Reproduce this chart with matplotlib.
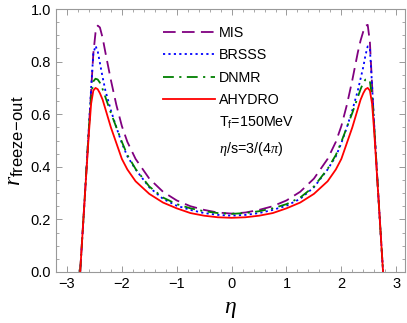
import numpy as np
import matplotlib
matplotlib.use("Agg")
import matplotlib.pyplot as plt
from matplotlib.lines import Line2D

plt.rcParams['font.family'] = ['Liberation Sans', 'DejaVu Sans']
plt.rcParams['mathtext.fontset'] = 'custom'
plt.rcParams['mathtext.rm'] = 'Liberation Sans'
plt.rcParams['mathtext.sf'] = 'Liberation Sans'
plt.rcParams['mathtext.it'] = 'Liberation Serif:italic'

# eta grid
eta = [-2.76, -2.72, -2.68, -2.64, -2.60, -2.56, -2.52, -2.48, -2.44, -2.40,
       -2.35, -2.30, -2.20, -2.10, -2.00, -1.90, -1.75, -1.50, -1.25, -1.00,
       -0.75, -0.50, -0.25, 0.00,
       0.25, 0.50, 0.75, 1.00, 1.25, 1.50, 1.75, 1.90, 2.00, 2.10,
       2.20, 2.30, 2.35, 2.40, 2.44, 2.48, 2.52, 2.56, 2.60, 2.64,
       2.68, 2.72, 2.76]

mis = [0.0, 0.135, 0.27, 0.41, 0.55, 0.69, 0.83, 0.91, 0.937, 0.93,
       0.89, 0.835, 0.73, 0.635, 0.555, 0.495, 0.43, 0.355, 0.305, 0.272,
       0.250, 0.236, 0.226, 0.222,
       0.226, 0.236, 0.250, 0.272, 0.305, 0.355, 0.43, 0.495, 0.555, 0.635,
       0.73, 0.835, 0.88, 0.915, 0.936, 0.94, 0.875, 0.71, 0.55, 0.41,
       0.27, 0.135, 0.0]

brsss = [0.0, 0.135, 0.27, 0.41, 0.55, 0.70, 0.83, 0.86, 0.84, 0.795,
         0.74, 0.69, 0.615, 0.55, 0.49, 0.44, 0.39, 0.322, 0.278, 0.252,
         0.236, 0.224, 0.217, 0.214,
         0.217, 0.224, 0.236, 0.252, 0.278, 0.322, 0.39, 0.44, 0.49, 0.55,
         0.615, 0.69, 0.735, 0.78, 0.825, 0.858, 0.85, 0.71, 0.55, 0.41,
         0.27, 0.135, 0.0]

dnmr = [0.0, 0.135, 0.27, 0.41, 0.55, 0.665, 0.725, 0.735, 0.732, 0.72,
        0.695, 0.665, 0.605, 0.55, 0.495, 0.445, 0.392, 0.325, 0.283, 0.258,
        0.242, 0.231, 0.224, 0.221,
        0.224, 0.231, 0.242, 0.258, 0.283, 0.325, 0.392, 0.445, 0.495, 0.55,
        0.605, 0.665, 0.695, 0.72, 0.732, 0.735, 0.725, 0.665, 0.55, 0.41,
        0.27, 0.135, 0.0]

ahydro = [0.0, 0.135, 0.27, 0.40, 0.53, 0.64, 0.69, 0.70, 0.695, 0.68,
          0.655, 0.62, 0.55, 0.49, 0.43, 0.39, 0.345, 0.297, 0.264, 0.242,
          0.224, 0.214, 0.208, 0.206,
          0.208, 0.214, 0.224, 0.242, 0.264, 0.297, 0.345, 0.39, 0.43, 0.49,
          0.55, 0.62, 0.655, 0.68, 0.695, 0.70, 0.69, 0.64, 0.53, 0.40,
          0.27, 0.135, 0.0]

labels = ["MIS", "BRSSS", "DNMR", "AHYDRO"]
notes = [r"T$_\mathrm{f}$=150MeV", r"$\eta$/s=3/(4$\pi$)"]

fig = plt.figure(figsize=(4.07, 3.23), dpi=100)
ax = fig.add_axes([0.1376, 0.158, 0.8575, 0.814])

lw = 1.3
ax.plot(eta, mis, color='#800080', lw=lw, dashes=(7, 3.5), label=labels[0])
ax.plot(eta, brsss, color='#0000ff', lw=lw, dashes=(1.2, 1.8), label=labels[1])
ax.plot(eta, dnmr, color='#007f00', lw=lw, dashes=(6, 3, 1.2, 3), label=labels[2])
ax.plot(eta, ahydro, color='#ff0000', lw=lw, label=labels[3])

handles, labs = ax.get_legend_handles_labels()
for n in notes:
    handles.append(Line2D([], [], lw=0))
    labs.append(n)
ax.legend(handles, labs, loc='upper left', bbox_to_anchor=(0.307, 0.935),
          frameon=False, fontsize=10.3, handlelength=3.6, handletextpad=0.3,
          labelspacing=0.58, borderpad=0, borderaxespad=0)

ax.set_xlim(-3.2, 3.16)
ax.set_ylim(0, 1.0)
ax.set_xticks([-3, -2, -1, 0, 1, 2, 3])
ax.set_xticklabels(['\u22123', '\u22122', '\u22121', '0', '1', '2', '3'])
ax.set_yticks([0.0, 0.2, 0.4, 0.6, 0.8, 1.0])
ax.set_yticklabels(['0.0', '0.2', '0.4', '0.6', '0.8', '1.0'])
ax.set_xticks(np.arange(-3.2, 3.2, 0.2), minor=True)
ax.set_yticks(np.arange(0, 1.0, 0.05), minor=True)
ax.tick_params(which='both', direction='in', top=True, right=True,
               color='#999999', labelsize=10.5)
ax.tick_params(which='major', length=4, width=0.7)
ax.tick_params(which='minor', length=2.2, width=0.6)
for s in ax.spines.values():
    s.set_color('#999999')
    s.set_linewidth(0.8)

ax.set_xlabel(r"$\eta$", fontsize=17, labelpad=5)
ax.set_ylabel(r"$r_{\mathrm{freeze\!-\!out}}$", fontsize=17, labelpad=3)

fig.savefig("out.png", dpi=100)
